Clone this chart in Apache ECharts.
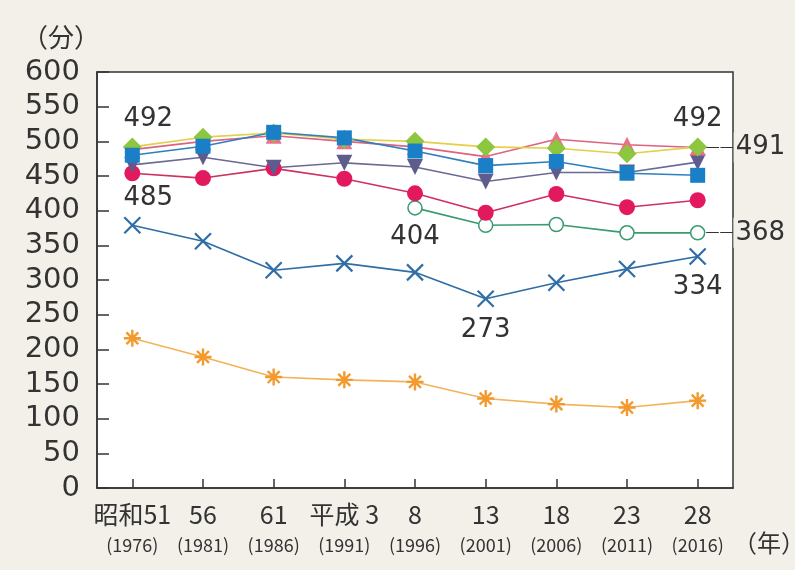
<!DOCTYPE html>
<html>
<head>
<meta charset="utf-8">
<script src="https://cdn.jsdelivr.net/npm/echarts@6/dist/echarts.min.js"></script>
<style>
html, body { margin: 0; padding: 0; background: #f3f0e9; }
#charts { width: 795px; height: 570px; }
</style>
</head>
<body>
<div id="charts"></div>
<script>
var categories = ['昭和51', '56', '61', '平成 3', '8', '13', '18', '23', '28'];
var years = ['1976', '1981', '1986', '1991', '1996', '2001', '2006', '2011', '2016'];
var yTicks = [0, 50, 100, 150, 200, 250, 300, 350, 400, 450, 500, 550, 600];

var diamondValues = [492, 506, 512, 503, 500, 492, 490, 482, 492];
var triangleValues = [488, 500, 508, 500, 492, 478, 503, 495, 491];
var squareValues = [480, 493, 513, 505, 486, 465, 471, 454, 451];
var downTriangleValues = [466, 477, 462, 469, 463, 442, 455, 455, 470];
var circleValues = [454, 447, 461, 446, 425, 397, 424, 405, 415];
var openCircleValues = [null, null, null, null, 404, 379, 380, 368, 368];
var crossValues = [379, 356, 314, 324, 311, 273, 296, 316, 334];
var starValues = [216, 189, 160, 156, 153, 129, 121, 116, 126];

// annotation texts, by series and point index
var diamondNotes = {0: '492', 8: '492'};
var triangleNotes = {8: '491'};
var openCircleNotes = {4: '404', 8: '368'};
var crossNotes = {0: '485', 5: '273', 8: '334'};

function initLineChart() {
    var myChart = echarts.init(document.getElementById('charts'));
    var bg = '#f3f0e9';
    var numFont = 'DejaVu Sans';

    function noteLabel(text, where) {
        if (where == 'top') {
            return {show: true, position: 'top', distance: 5, offset: [16, 0], formatter: text};
        }
        if (where == 'topc') {
            return {show: true, position: 'top', distance: 5, formatter: text};
        }
        if (where == 'bottom') {
            return {show: true, position: 'bottom', distance: 5, offset: [0, 4], formatter: text};
        }
        // leader line to the right of the frame
        return {
            show: true, position: 'right', distance: 0,
            formatter: '{d|——}{v|' + text + '}',
            rich: {
                d: {fontSize: 14, color: '#333', fontFamily: numFont},
                v: {fontSize: 26, color: '#333', fontFamily: numFont, backgroundColor: bg, padding: [2, 0, 2, 2]}
            }
        };
    }

    function build(values, notes, places) {
        return values.map(function (v, i) {
            if (notes[i] !== undefined) {
                return {value: v, label: noteLabel(notes[i], places[i])};
            }
            return v;
        });
    }

    function line(name, values, symbol, size, color, lineColor, extra) {
        var s = {
            name: name,
            type: 'line',
            data: values,
            symbol: symbol,
            symbolSize: size,
            showAllSymbol: true,
            connectNulls: false,
            lineStyle: {color: lineColor, width: 1.6},
            itemStyle: {color: color},
            label: {color: '#333', fontSize: 26, fontFamily: numFont},
            emphasis: {disabled: true}
        };
        for (var k in extra) s[k] = extra[k];
        return s;
    }

    var option = {
        backgroundColor: bg,
        animation: false,
        grid: {
            left: 97, right: 62, top: 72, bottom: 82,
            show: true, backgroundColor: '#ffffff', borderColor: '#333', borderWidth: 1.5
        },
        xAxis: {
            type: 'category',
            data: categories,
            boundaryGap: true,
            axisLine: {lineStyle: {color: '#333', width: 1.5}},
            axisTick: {show: true, inside: true, alignWithLabel: true, interval: 0, length: 9, lineStyle: {color: '#333', width: 1.5}},
            axisLabel: {
                margin: 11,
                interval: 0,
                formatter: function (v, i) {
                    return '{a|' + v + '}\n{b|(' + years[i] + ')}';
                },
                rich: {
                    a: {fontSize: 25, color: '#333', fontFamily: 'Noto Sans CJK JP', lineHeight: 30},
                    b: {fontSize: 18, color: '#333', fontFamily: 'Noto Sans CJK JP', lineHeight: 32}
                }
            }
        },
        yAxis: {
            type: 'value',
            min: yTicks[0],
            max: yTicks[yTicks.length - 1],
            interval: yTicks[1] - yTicks[0],
            splitLine: {show: false},
            axisLine: {show: true, lineStyle: {color: '#333', width: 1.5}},
            axisTick: {show: true, inside: true, length: 12, lineStyle: {color: '#333', width: 1.5}},
            axisLabel: {margin: 17, fontSize: 29, color: '#333', fontFamily: numFont}
        },
        graphic: [
            {type: 'text', left: 22, top: 24, style: {text: '（分）', font: '26px "Noto Sans CJK JP"', fill: '#333'}},
            {type: 'text', left: 733, top: 531, style: {text: '（年）', font: '24px "Noto Sans CJK JP"', fill: '#333'}}
        ],
        series: [
            line('star', starValues, 'path://M0,-10L0,10M-10,0L10,0M-7,-7L7,7M-7,7L7,-7', 17, '#f29a2e', '#f2b35a',
                {itemStyle: {color: '#f29a2e', borderColor: '#f29a2e', borderWidth: 2.4}}),
            line('cross', build(crossValues, crossNotes, {0: 'top', 5: 'bottom', 8: 'bottom'}),
                'path://M-10,-10L10,10M-10,10L10,-10', 16, '#2f6da6', '#2f6da6',
                {itemStyle: {color: '#2f6da6', borderColor: '#2f6da6', borderWidth: 2.2}}),
            line('openCircle', build(openCircleValues, openCircleNotes, {4: 'bottom', 8: 'right'}),
                'circle', 14, '#ffffff', '#3a9a70',
                {itemStyle: {color: '#ffffff', borderColor: '#3a9a70', borderWidth: 1.5}}),
            line('circle', circleValues, 'circle', 16, '#e2195e', '#d0305e', {}),
            line('downTriangle', downTriangleValues, 'triangle', 16, '#5d5c8d', '#6a6a94', {symbolRotate: 180}),
            line('triangle', build(triangleValues, triangleNotes, {8: 'right'}), 'triangle', 16, '#ec7088', '#dc6480', {}),
            line('diamond', build(diamondValues, diamondNotes, {0: 'top', 8: 'topc'}), 'diamond', 19, '#8dc63f', '#e3cf48', {}),
            line('square', squareValues, 'rect', 15, '#1a7fc6', '#2f7fc0', {})
        ]
    };
    myChart.setOption(option);
}
initLineChart();
</script>
</body>
</html>
